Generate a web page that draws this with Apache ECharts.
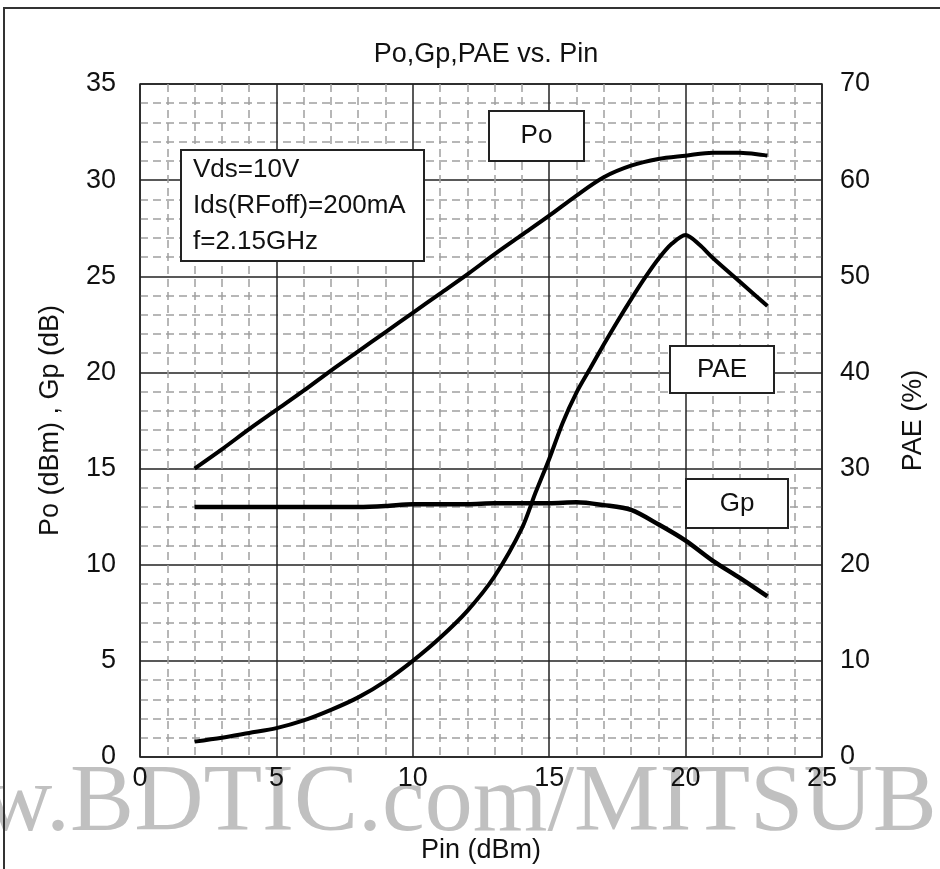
<!DOCTYPE html>
<html>
<head>
<meta charset="utf-8">
<script src="https://cdn.jsdelivr.net/npm/echarts@6/dist/echarts.min.js"></script>
<style>
  html, body { margin: 0; padding: 0; background: #fff; }
  #chart { width: 940px; height: 869px; }
</style>
</head>
<body>
<div id="chart"></div>
<script>
// values
var pin = [2, 3, 4, 5, 6, 7, 8, 9, 10, 11, 12, 13, 14, 15, 16, 17, 18, 19, 20, 21, 22, 23];
var po = [15.0, 16.0, 17.05, 18.05, 19.05, 20.1, 21.1, 22.1, 23.1, 24.1, 25.1, 26.15, 27.15, 28.15, 29.2, 30.15, 30.75, 31.1, 31.27, 31.43, 31.42, 31.28];
var gp = [13.0, 13.0, 13.0, 13.0, 13.0, 13.0, 13.0, 13.05, 13.15, 13.15, 13.15, 13.2, 13.2, 13.2, 13.25, 13.1, 12.85, 12.1, 11.25, 10.2, 9.3, 8.35];
var pinPae = [2, 3, 4, 5, 6, 7, 8, 9, 10, 11, 12, 13, 14, 14.5, 15, 15.5, 16, 16.5, 17, 17.5, 18, 18.5, 19, 19.5, 20, 20.5, 21, 22, 23];
var pae = [1.6, 2.0, 2.5, 3.0, 3.8, 4.9, 6.2, 7.9, 10.0, 12.4, 15.2, 18.8, 23.8, 27.5, 31.0, 34.8, 37.9, 40.4, 42.9, 45.3, 47.6, 49.8, 51.8, 53.4, 54.3, 53.3, 51.9, 49.4, 46.9];

var font = 'Liberation Sans, Arial, sans-serif';

function pairs(xs, ys) {
  return xs.map(function (x, i) { return [x, ys[i]]; });
}

// boxed label on top of the grid
function box(x, y, w, h, lines, align) {
  return {
    type: 'group',
    x: x,
    y: y,
    children: [
      { type: 'rect', z: 100, shape: { x: 0, y: 0, width: w, height: h },
        style: { fill: '#fff', stroke: '#222', lineWidth: 2 } },
      { type: 'text', z: 101, x: align === 'left' ? 12 : w / 2, y: h / 2,
        style: { text: lines, font: '26px ' + font, fill: '#111',
          align: align || 'center', verticalAlign: 'middle', lineHeight: 36 } }
    ]
  };
}

var chartDom = document.getElementById('chart');
var myChart = echarts.init(chartDom);
var option;

option = {
  backgroundColor: '#fff',
  animation: false,
  title: {
    text: 'Po,Gp,PAE vs. Pin',
    left: 481,
    top: 36,
    textAlign: 'center',
    textStyle: { fontFamily: font, fontSize: 27, fontWeight: 'normal', color: '#111' }
  },
  grid: {
    left: 140, top: 84, right: 118, bottom: 110,
    show: true, borderColor: '#222', borderWidth: 1.5
  },
  xAxis: {
    type: 'value',
    min: 0, max: 25, interval: 5,
    name: 'Pin (dBm)',
    nameLocation: 'middle',
    nameGap: 80,
    nameTextStyle: { fontFamily: font, fontSize: 27, color: '#111' },
    axisLine: { show: false },
    axisTick: { show: false },
    axisLabel: { margin: 8, fontFamily: font, fontSize: 27, color: '#111' },
    splitLine: { show: true, lineStyle: { color: '#222', width: 1.5 } },
    minorTick: { show: false, splitNumber: 5 },
    minorSplitLine: { show: true, lineStyle: { color: '#a0a0a0', width: 1.5, type: [8, 5] } }
  },
  yAxis: [
    {
      type: 'value',
      min: 0, max: 35, interval: 5,
      name: 'Po (dBm) , Gp (dB)',
      nameLocation: 'middle',
      nameGap: 76,
      nameTextStyle: { fontFamily: font, fontSize: 27, color: '#111' },
      axisLine: { show: false },
      axisTick: { show: false },
      axisLabel: { margin: 24, fontFamily: font, fontSize: 27, color: '#111' },
      splitLine: { show: true, lineStyle: { color: '#222', width: 1.5 } },
      minorTick: { show: false, splitNumber: 5 },
      minorSplitLine: { show: true, lineStyle: { color: '#a0a0a0', width: 1.5, type: [8, 5] } }
    },
    {
      type: 'value',
      min: 0, max: 70, interval: 10,
      name: 'PAE (%)',
      nameLocation: 'middle',
      nameGap: 78,
      nameTextStyle: { fontFamily: font, fontSize: 27, color: '#111' },
      axisLine: { show: false },
      axisTick: { show: false },
      axisLabel: { margin: 18, fontFamily: font, fontSize: 27, color: '#111' },
      splitLine: { show: false }
    }
  ],
  series: [
    {
      name: 'Po',
      type: 'line',
      data: pairs(pin, po),
      smooth: 0.3,
      showSymbol: false,
      lineStyle: { color: '#000', width: 4 },
      z: 10
    },
    {
      name: 'Gp',
      type: 'line',
      data: pairs(pin, gp),
      smooth: 0.3,
      showSymbol: false,
      lineStyle: { color: '#000', width: 4.5 },
      z: 10
    },
    {
      name: 'PAE',
      type: 'line',
      yAxisIndex: 1,
      data: pairs(pinPae, pae),
      smooth: 0.3,
      showSymbol: false,
      lineStyle: { color: '#000', width: 4 },
      z: 10
    }
  ],
  graphic: [
    { type: 'rect', z: 100, silent: true,
      shape: { x: 4, y: 8, width: 960, height: 900 },
      style: { fill: 'none', stroke: '#333', lineWidth: 2 } },
    { type: 'text', z: -10, x: -17, y: 805,
      style: { text: 'w.BDTIC.com/MITSUB', font: '96px Liberation Serif, Times New Roman, serif',
        fill: '#c0c0c0', verticalAlign: 'middle' } },
    box(181, 150, 243, 111, 'Vds=10V\nIds(RFoff)=200mA\nf=2.15GHz', 'left'),
    box(489, 111, 95, 50, 'Po'),
    box(670, 346, 104, 47, 'PAE'),
    box(686, 479, 102, 49, 'Gp')
  ]
};

option && myChart.setOption(option);
</script>
</body>
</html>
